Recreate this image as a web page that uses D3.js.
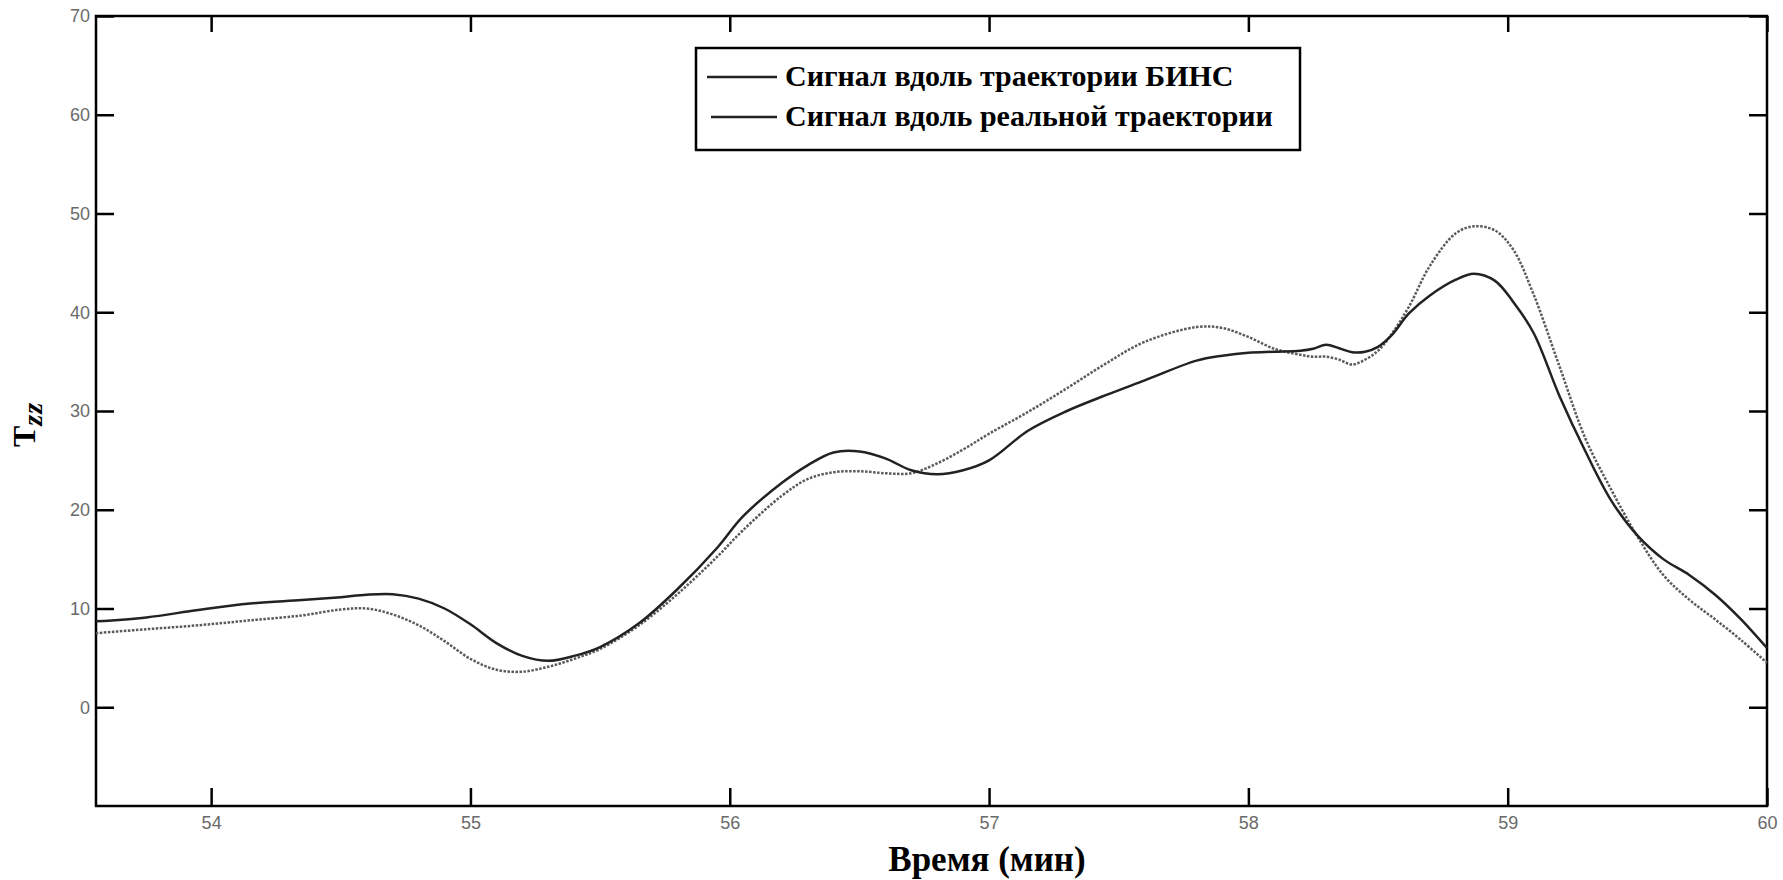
<!DOCTYPE html>
<html>
<head>
<meta charset="utf-8">
<script src="https://cdn.jsdelivr.net/npm/d3@7"></script>
<style>
    body { margin: 0; background: #fff; }
    .tick text { font-family: "Liberation Sans", Arial, sans-serif; font-size: 18px; fill: #6a6a6a; }
    .tick line { stroke: #000; stroke-width: 2.5; }
</style>
</head>
<body>
<svg id="chart" width="1783" height="880"></svg>
<script>
// время, мин
var time = [53.556, 53.75, 53.95, 54.15, 54.35, 54.5, 54.6, 54.7, 54.8, 54.9,
    55.0, 55.1, 55.2, 55.3, 55.4, 55.5, 55.65, 55.8, 55.95, 56.05,
    56.2, 56.3, 56.4, 56.5, 56.6, 56.7, 56.8, 56.9, 57.0, 57.15,
    57.3, 57.45, 57.6, 57.8, 57.9, 58.0, 58.1, 58.2, 58.25, 58.3,
    58.35, 58.4, 58.45, 58.5, 58.55, 58.62, 58.7, 58.8, 58.87, 58.95,
    59.02, 59.1, 59.2, 59.3, 59.4, 59.5, 59.6, 59.7, 59.8, 59.9, 60.0];

// сигнал вдоль траектории БИНС (сплошная)
var binsSignal = [8.7, 9.1, 9.85, 10.5, 10.85, 11.15, 11.4, 11.45, 11.0, 10.0,
    8.4, 6.5, 5.2, 4.7, 5.2, 6.1, 8.5, 12.0, 16.1, 19.3,
    22.7, 24.5, 25.8, 25.9, 25.2, 24.0, 23.6, 24.0, 25.0, 28.0,
    30.0, 31.6, 33.1, 35.1, 35.6, 35.9, 36.0, 36.1, 36.3, 36.7,
    36.35, 35.95, 36.0, 36.5, 37.6, 39.9, 41.7, 43.3, 43.9, 43.2,
    41.1, 37.9, 31.5, 25.9, 20.9, 17.4, 15.0, 13.4, 11.4, 8.9, 6.0];

// сигнал вдоль реальной траектории (пунктир)
var realSignal = [7.5, 7.9, 8.3, 8.8, 9.3, 9.9, 10.0, 9.4, 8.3, 6.7,
    4.9, 3.8, 3.6, 4.1, 4.9, 5.9, 8.3, 11.5, 15.2, 17.9,
    21.4, 23.1, 23.8, 23.9, 23.7, 23.7, 24.7, 26.1, 27.7, 29.9,
    32.3, 34.8, 37.0, 38.5, 38.4, 37.5, 36.3, 35.7, 35.5, 35.5,
    35.2, 34.7, 35.2, 36.1, 37.7, 40.6, 44.7, 48.0, 48.7, 48.3,
    46.4, 41.8, 34.5, 27.2, 22.0, 17.3, 13.4, 10.9, 8.9, 6.8, 4.5];

var xTicks = [54, 55, 56, 57, 58, 59, 60];
var yTicks = [0, 10, 20, 30, 40, 50, 60, 70];
var legendLabels = ["Сигнал вдоль траектории БИНС", "Сигнал вдоль реальной траектории"];

var svg = d3.select("#chart");

var x = d3.scaleLinear().domain([53.556, 60]).range([96, 1767]);
var y = d3.scaleLinear().domain([-10, 70]).range([806, 16]);

// оси с засечками внутрь
svg.append("g")
    .attr("transform", "translate(0,806)")
    .call(d3.axisBottom(x).tickValues(xTicks).tickFormat(d3.format("d"))
        .tickSize(-18).tickSizeOuter(0).tickPadding(10))
    .call(g => g.select(".domain").remove());

svg.append("g")
    .attr("transform", "translate(0,16)")
    .call(d3.axisTop(x).tickValues(xTicks).tickSize(-16).tickSizeOuter(0).tickFormat(""))
    .call(g => g.select(".domain").remove());

svg.append("g")
    .attr("transform", "translate(96,0)")
    .call(d3.axisLeft(y).tickValues(yTicks).tickFormat(d3.format("d"))
        .tickSize(-18).tickSizeOuter(0).tickPadding(6))
    .call(g => g.select(".domain").remove());

svg.append("g")
    .attr("transform", "translate(1767,0)")
    .call(d3.axisRight(y).tickValues(yTicks).tickSize(-18).tickSizeOuter(0).tickFormat(""))
    .call(g => g.select(".domain").remove());

svg.append("rect")
    .attr("x", x.range()[0])
    .attr("y", y.range()[1])
    .attr("width", x.range()[1] - x.range()[0])
    .attr("height", y.range()[0] - y.range()[1])
    .attr("fill", "none")
    .attr("stroke", "#000")
    .attr("stroke-width", 2.5);

var line = d3.line()
    .x(function (d) { return x(d[0]); })
    .y(function (d) { return y(d[1]); })
    .curve(d3.curveCatmullRom.alpha(0.5));

svg.append("path")
    .datum(d3.zip(time, realSignal))
    .attr("d", line)
    .attr("fill", "none")
    .attr("stroke", "#5a5a5a")
    .attr("stroke-width", 2.5)
    .attr("stroke-dasharray", "2.5,1.5");

svg.append("path")
    .datum(d3.zip(time, binsSignal))
    .attr("d", line)
    .attr("fill", "none")
    .attr("stroke", "#222")
    .attr("stroke-width", 2.5);

// легенда
var legend = svg.append("g");
legend.append("rect")
    .attr("x", 696).attr("y", 48)
    .attr("width", 604).attr("height", 102)
    .attr("fill", "#fff")
    .attr("stroke", "#000")
    .attr("stroke-width", 2.5);

legendLabels.forEach(function (label, i) {
    var ly = 77 + i * 40;
    legend.append("line")
        .attr("x1", 707 + i * 4).attr("x2", 777)
        .attr("y1", ly).attr("y2", ly)
        .attr("stroke", "#222")
        .attr("stroke-width", 2.5);
    legend.append("text")
        .attr("x", 785)
        .attr("y", ly + 9)
        .style("font-family", "'Liberation Serif', serif")
        .style("font-weight", "bold")
        .style("font-size", "30px")
        .text(label);
});

// подписи осей
svg.append("text")
    .attr("x", 987)
    .attr("y", 871)
    .attr("text-anchor", "middle")
    .style("font-family", "'Liberation Serif', serif")
    .style("font-weight", "bold")
    .style("font-size", "35px")
    .text("Время (мин)");

var yLabel = svg.append("text")
    .attr("transform", "translate(35,447) rotate(-90)")
    .style("font-family", "'Liberation Serif', serif")
    .style("font-weight", "bold");
yLabel.append("tspan").style("font-size", "32px").text("T");
yLabel.append("tspan")
    .attr("dy", 7)
    .style("font-size", "28px")
    .style("font-style", "italic")
    .style("letter-spacing", "1px")
    .text("zz");
</script>
</body>
</html>
